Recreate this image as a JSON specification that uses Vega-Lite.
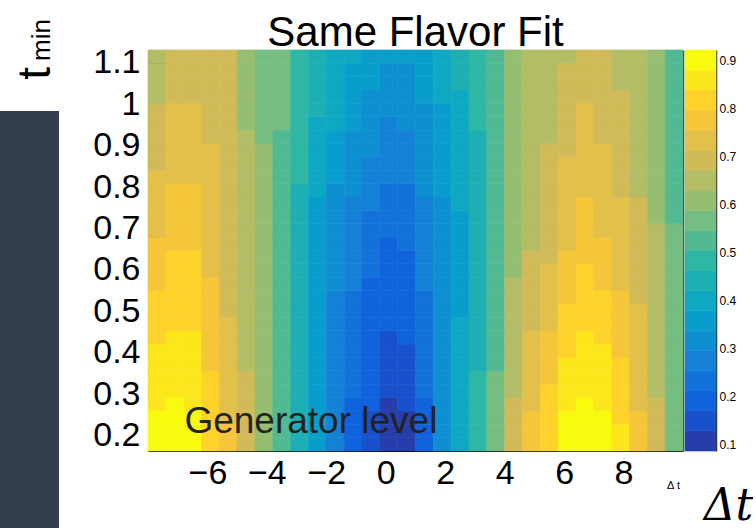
{
"$schema":"https://vega.github.io/schema/vega-lite/v6.json",
"background":"white",
"padding":{"left":0,"top":11,"right":0,"bottom":0},
"bounds":"flush",
"spacing":148,
"config":{"view":{"stroke":null},"font":"Liberation Sans"},
"datasets":{"cells":[
{"x":-7.7,"t":0.179,"v":0.90},{"x":-7.1,"t":0.179,"v":0.90},{"x":-6.5,"t":0.179,"v":0.89},{"x":-5.9,"t":0.179,"v":0.83},{"x":-5.3,"t":0.179,"v":0.76},{"x":-4.7,"t":0.179,"v":0.69},{"x":-4.1,"t":0.179,"v":0.61},{"x":-3.5,"t":0.179,"v":0.53},{"x":-2.9,"t":0.179,"v":0.45},{"x":-2.3,"t":0.179,"v":0.37},{"x":-1.7,"t":0.179,"v":0.28},{"x":-1.1,"t":0.179,"v":0.20},{"x":-0.5,"t":0.179,"v":0.15},{"x":0.1,"t":0.179,"v":0.10},{"x":0.7,"t":0.179,"v":0.11},{"x":1.3,"t":0.179,"v":0.20},{"x":1.9,"t":0.179,"v":0.31},{"x":2.5,"t":0.179,"v":0.40},{"x":3.1,"t":0.179,"v":0.48},{"x":3.7,"t":0.179,"v":0.56},{"x":4.3,"t":0.179,"v":0.69},{"x":4.9,"t":0.179,"v":0.78},{"x":5.5,"t":0.179,"v":0.83},{"x":6.1,"t":0.179,"v":0.90},{"x":6.7,"t":0.179,"v":0.90},{"x":7.3,"t":0.179,"v":0.90},{"x":7.9,"t":0.179,"v":0.85},{"x":8.5,"t":0.179,"v":0.77},{"x":9.1,"t":0.179,"v":0.69},{"x":9.7,"t":0.179,"v":0.57},
{"x":-7.7,"t":0.211,"v":0.89},{"x":-7.1,"t":0.211,"v":0.89},{"x":-6.5,"t":0.211,"v":0.88},{"x":-5.9,"t":0.211,"v":0.82},{"x":-5.3,"t":0.211,"v":0.76},{"x":-4.7,"t":0.211,"v":0.69},{"x":-4.1,"t":0.211,"v":0.61},{"x":-3.5,"t":0.211,"v":0.53},{"x":-2.9,"t":0.211,"v":0.45},{"x":-2.3,"t":0.211,"v":0.37},{"x":-1.7,"t":0.211,"v":0.28},{"x":-1.1,"t":0.211,"v":0.20},{"x":-0.5,"t":0.211,"v":0.16},{"x":0.1,"t":0.211,"v":0.11},{"x":0.7,"t":0.211,"v":0.12},{"x":1.3,"t":0.211,"v":0.20},{"x":1.9,"t":0.211,"v":0.31},{"x":2.5,"t":0.211,"v":0.40},{"x":3.1,"t":0.211,"v":0.48},{"x":3.7,"t":0.211,"v":0.56},{"x":4.3,"t":0.211,"v":0.69},{"x":4.9,"t":0.211,"v":0.77},{"x":5.5,"t":0.211,"v":0.82},{"x":6.1,"t":0.211,"v":0.89},{"x":6.7,"t":0.211,"v":0.89},{"x":7.3,"t":0.211,"v":0.89},{"x":7.9,"t":0.211,"v":0.84},{"x":8.5,"t":0.211,"v":0.77},{"x":9.1,"t":0.211,"v":0.69},{"x":9.7,"t":0.211,"v":0.57},
{"x":-7.7,"t":0.244,"v":0.88},{"x":-7.1,"t":0.244,"v":0.89},{"x":-6.5,"t":0.244,"v":0.88},{"x":-5.9,"t":0.244,"v":0.82},{"x":-5.3,"t":0.244,"v":0.75},{"x":-4.7,"t":0.244,"v":0.69},{"x":-4.1,"t":0.244,"v":0.61},{"x":-3.5,"t":0.244,"v":0.53},{"x":-2.9,"t":0.244,"v":0.45},{"x":-2.3,"t":0.244,"v":0.37},{"x":-1.7,"t":0.244,"v":0.28},{"x":-1.1,"t":0.244,"v":0.21},{"x":-0.5,"t":0.244,"v":0.16},{"x":0.1,"t":0.244,"v":0.11},{"x":0.7,"t":0.244,"v":0.12},{"x":1.3,"t":0.244,"v":0.21},{"x":1.9,"t":0.244,"v":0.31},{"x":2.5,"t":0.244,"v":0.40},{"x":3.1,"t":0.244,"v":0.48},{"x":3.7,"t":0.244,"v":0.56},{"x":4.3,"t":0.244,"v":0.68},{"x":4.9,"t":0.244,"v":0.77},{"x":5.5,"t":0.244,"v":0.81},{"x":6.1,"t":0.244,"v":0.88},{"x":6.7,"t":0.244,"v":0.88},{"x":7.3,"t":0.244,"v":0.88},{"x":7.9,"t":0.244,"v":0.83},{"x":8.5,"t":0.244,"v":0.76},{"x":9.1,"t":0.244,"v":0.68},{"x":9.7,"t":0.244,"v":0.57},
{"x":-7.7,"t":0.276,"v":0.87},{"x":-7.1,"t":0.276,"v":0.88},{"x":-6.5,"t":0.276,"v":0.87},{"x":-5.9,"t":0.276,"v":0.81},{"x":-5.3,"t":0.276,"v":0.75},{"x":-4.7,"t":0.276,"v":0.68},{"x":-4.1,"t":0.276,"v":0.61},{"x":-3.5,"t":0.276,"v":0.53},{"x":-2.9,"t":0.276,"v":0.45},{"x":-2.3,"t":0.276,"v":0.37},{"x":-1.7,"t":0.276,"v":0.28},{"x":-1.1,"t":0.276,"v":0.21},{"x":-0.5,"t":0.276,"v":0.17},{"x":0.1,"t":0.276,"v":0.12},{"x":0.7,"t":0.276,"v":0.13},{"x":1.3,"t":0.276,"v":0.21},{"x":1.9,"t":0.276,"v":0.31},{"x":2.5,"t":0.276,"v":0.39},{"x":3.1,"t":0.276,"v":0.47},{"x":3.7,"t":0.276,"v":0.55},{"x":4.3,"t":0.276,"v":0.68},{"x":4.9,"t":0.276,"v":0.75},{"x":5.5,"t":0.276,"v":0.80},{"x":6.1,"t":0.276,"v":0.87},{"x":6.7,"t":0.276,"v":0.88},{"x":7.3,"t":0.276,"v":0.87},{"x":7.9,"t":0.276,"v":0.83},{"x":8.5,"t":0.276,"v":0.75},{"x":9.1,"t":0.276,"v":0.68},{"x":9.7,"t":0.276,"v":0.57},
{"x":-7.7,"t":0.308,"v":0.86},{"x":-7.1,"t":0.308,"v":0.87},{"x":-6.5,"t":0.308,"v":0.86},{"x":-5.9,"t":0.308,"v":0.81},{"x":-5.3,"t":0.308,"v":0.74},{"x":-4.7,"t":0.308,"v":0.68},{"x":-4.1,"t":0.308,"v":0.61},{"x":-3.5,"t":0.308,"v":0.53},{"x":-2.9,"t":0.308,"v":0.45},{"x":-2.3,"t":0.308,"v":0.36},{"x":-1.7,"t":0.308,"v":0.29},{"x":-1.1,"t":0.308,"v":0.22},{"x":-0.5,"t":0.308,"v":0.17},{"x":0.1,"t":0.308,"v":0.13},{"x":0.7,"t":0.308,"v":0.14},{"x":1.3,"t":0.308,"v":0.22},{"x":1.9,"t":0.308,"v":0.31},{"x":2.5,"t":0.308,"v":0.39},{"x":3.1,"t":0.308,"v":0.47},{"x":3.7,"t":0.308,"v":0.55},{"x":4.3,"t":0.308,"v":0.67},{"x":4.9,"t":0.308,"v":0.74},{"x":5.5,"t":0.308,"v":0.80},{"x":6.1,"t":0.308,"v":0.86},{"x":6.7,"t":0.308,"v":0.87},{"x":7.3,"t":0.308,"v":0.86},{"x":7.9,"t":0.308,"v":0.82},{"x":8.5,"t":0.308,"v":0.75},{"x":9.1,"t":0.308,"v":0.67},{"x":9.7,"t":0.308,"v":0.57},
{"x":-7.7,"t":0.341,"v":0.85},{"x":-7.1,"t":0.341,"v":0.86},{"x":-6.5,"t":0.341,"v":0.86},{"x":-5.9,"t":0.341,"v":0.80},{"x":-5.3,"t":0.341,"v":0.74},{"x":-4.7,"t":0.341,"v":0.68},{"x":-4.1,"t":0.341,"v":0.61},{"x":-3.5,"t":0.341,"v":0.53},{"x":-2.9,"t":0.341,"v":0.45},{"x":-2.3,"t":0.341,"v":0.36},{"x":-1.7,"t":0.341,"v":0.29},{"x":-1.1,"t":0.341,"v":0.22},{"x":-0.5,"t":0.341,"v":0.18},{"x":0.1,"t":0.341,"v":0.14},{"x":0.7,"t":0.341,"v":0.15},{"x":1.3,"t":0.341,"v":0.22},{"x":1.9,"t":0.341,"v":0.31},{"x":2.5,"t":0.341,"v":0.39},{"x":3.1,"t":0.341,"v":0.47},{"x":3.7,"t":0.341,"v":0.55},{"x":4.3,"t":0.341,"v":0.67},{"x":4.9,"t":0.341,"v":0.74},{"x":5.5,"t":0.341,"v":0.79},{"x":6.1,"t":0.341,"v":0.85},{"x":6.7,"t":0.341,"v":0.86},{"x":7.3,"t":0.341,"v":0.85},{"x":7.9,"t":0.341,"v":0.81},{"x":8.5,"t":0.341,"v":0.74},{"x":9.1,"t":0.341,"v":0.67},{"x":9.7,"t":0.341,"v":0.57},
{"x":-7.7,"t":0.373,"v":0.84},{"x":-7.1,"t":0.373,"v":0.86},{"x":-6.5,"t":0.373,"v":0.85},{"x":-5.9,"t":0.373,"v":0.79},{"x":-5.3,"t":0.373,"v":0.73},{"x":-4.7,"t":0.373,"v":0.67},{"x":-4.1,"t":0.373,"v":0.61},{"x":-3.5,"t":0.373,"v":0.53},{"x":-2.9,"t":0.373,"v":0.45},{"x":-2.3,"t":0.373,"v":0.36},{"x":-1.7,"t":0.373,"v":0.29},{"x":-1.1,"t":0.373,"v":0.23},{"x":-0.5,"t":0.373,"v":0.18},{"x":0.1,"t":0.373,"v":0.14},{"x":0.7,"t":0.373,"v":0.15},{"x":1.3,"t":0.373,"v":0.23},{"x":1.9,"t":0.373,"v":0.31},{"x":2.5,"t":0.373,"v":0.38},{"x":3.1,"t":0.373,"v":0.46},{"x":3.7,"t":0.373,"v":0.54},{"x":4.3,"t":0.373,"v":0.67},{"x":4.9,"t":0.373,"v":0.73},{"x":5.5,"t":0.373,"v":0.78},{"x":6.1,"t":0.373,"v":0.84},{"x":6.7,"t":0.373,"v":0.85},{"x":7.3,"t":0.373,"v":0.84},{"x":7.9,"t":0.373,"v":0.80},{"x":8.5,"t":0.373,"v":0.74},{"x":9.1,"t":0.373,"v":0.67},{"x":9.7,"t":0.373,"v":0.57},
{"x":-7.7,"t":0.405,"v":0.84},{"x":-7.1,"t":0.405,"v":0.85},{"x":-6.5,"t":0.405,"v":0.84},{"x":-5.9,"t":0.405,"v":0.79},{"x":-5.3,"t":0.405,"v":0.73},{"x":-4.7,"t":0.405,"v":0.67},{"x":-4.1,"t":0.405,"v":0.61},{"x":-3.5,"t":0.405,"v":0.53},{"x":-2.9,"t":0.405,"v":0.45},{"x":-2.3,"t":0.405,"v":0.36},{"x":-1.7,"t":0.405,"v":0.29},{"x":-1.1,"t":0.405,"v":0.23},{"x":-0.5,"t":0.405,"v":0.19},{"x":0.1,"t":0.405,"v":0.15},{"x":0.7,"t":0.405,"v":0.16},{"x":1.3,"t":0.405,"v":0.23},{"x":1.9,"t":0.405,"v":0.31},{"x":2.5,"t":0.405,"v":0.38},{"x":3.1,"t":0.405,"v":0.46},{"x":3.7,"t":0.405,"v":0.54},{"x":4.3,"t":0.405,"v":0.66},{"x":4.9,"t":0.405,"v":0.73},{"x":5.5,"t":0.405,"v":0.77},{"x":6.1,"t":0.405,"v":0.83},{"x":6.7,"t":0.405,"v":0.84},{"x":7.3,"t":0.405,"v":0.84},{"x":7.9,"t":0.405,"v":0.79},{"x":8.5,"t":0.405,"v":0.73},{"x":9.1,"t":0.405,"v":0.66},{"x":9.7,"t":0.405,"v":0.56},
{"x":-7.7,"t":0.437,"v":0.83},{"x":-7.1,"t":0.437,"v":0.84},{"x":-6.5,"t":0.437,"v":0.84},{"x":-5.9,"t":0.437,"v":0.78},{"x":-5.3,"t":0.437,"v":0.72},{"x":-4.7,"t":0.437,"v":0.67},{"x":-4.1,"t":0.437,"v":0.61},{"x":-3.5,"t":0.437,"v":0.52},{"x":-2.9,"t":0.437,"v":0.45},{"x":-2.3,"t":0.437,"v":0.36},{"x":-1.7,"t":0.437,"v":0.29},{"x":-1.1,"t":0.437,"v":0.24},{"x":-0.5,"t":0.437,"v":0.19},{"x":0.1,"t":0.437,"v":0.16},{"x":0.7,"t":0.437,"v":0.17},{"x":1.3,"t":0.437,"v":0.24},{"x":1.9,"t":0.437,"v":0.31},{"x":2.5,"t":0.437,"v":0.38},{"x":3.1,"t":0.437,"v":0.46},{"x":3.7,"t":0.437,"v":0.54},{"x":4.3,"t":0.437,"v":0.66},{"x":4.9,"t":0.437,"v":0.72},{"x":5.5,"t":0.437,"v":0.76},{"x":6.1,"t":0.437,"v":0.82},{"x":6.7,"t":0.437,"v":0.84},{"x":7.3,"t":0.437,"v":0.83},{"x":7.9,"t":0.437,"v":0.79},{"x":8.5,"t":0.437,"v":0.73},{"x":9.1,"t":0.437,"v":0.66},{"x":9.7,"t":0.437,"v":0.56},
{"x":-7.7,"t":0.470,"v":0.82},{"x":-7.1,"t":0.470,"v":0.83},{"x":-6.5,"t":0.470,"v":0.83},{"x":-5.9,"t":0.470,"v":0.78},{"x":-5.3,"t":0.470,"v":0.72},{"x":-4.7,"t":0.470,"v":0.67},{"x":-4.1,"t":0.470,"v":0.60},{"x":-3.5,"t":0.470,"v":0.52},{"x":-2.9,"t":0.470,"v":0.45},{"x":-2.3,"t":0.470,"v":0.36},{"x":-1.7,"t":0.470,"v":0.29},{"x":-1.1,"t":0.470,"v":0.24},{"x":-0.5,"t":0.470,"v":0.20},{"x":0.1,"t":0.470,"v":0.17},{"x":0.7,"t":0.470,"v":0.18},{"x":1.3,"t":0.470,"v":0.24},{"x":1.9,"t":0.470,"v":0.31},{"x":2.5,"t":0.470,"v":0.38},{"x":3.1,"t":0.470,"v":0.46},{"x":3.7,"t":0.470,"v":0.54},{"x":4.3,"t":0.470,"v":0.66},{"x":4.9,"t":0.470,"v":0.70},{"x":5.5,"t":0.470,"v":0.75},{"x":6.1,"t":0.470,"v":0.81},{"x":6.7,"t":0.470,"v":0.83},{"x":7.3,"t":0.470,"v":0.82},{"x":7.9,"t":0.470,"v":0.78},{"x":8.5,"t":0.470,"v":0.72},{"x":9.1,"t":0.470,"v":0.65},{"x":9.7,"t":0.470,"v":0.56},
{"x":-7.7,"t":0.502,"v":0.81},{"x":-7.1,"t":0.502,"v":0.83},{"x":-6.5,"t":0.502,"v":0.82},{"x":-5.9,"t":0.502,"v":0.77},{"x":-5.3,"t":0.502,"v":0.71},{"x":-4.7,"t":0.502,"v":0.66},{"x":-4.1,"t":0.502,"v":0.60},{"x":-3.5,"t":0.502,"v":0.52},{"x":-2.9,"t":0.502,"v":0.45},{"x":-2.3,"t":0.502,"v":0.36},{"x":-1.7,"t":0.502,"v":0.29},{"x":-1.1,"t":0.502,"v":0.25},{"x":-0.5,"t":0.502,"v":0.20},{"x":0.1,"t":0.502,"v":0.17},{"x":0.7,"t":0.502,"v":0.18},{"x":1.3,"t":0.502,"v":0.25},{"x":1.9,"t":0.502,"v":0.31},{"x":2.5,"t":0.502,"v":0.37},{"x":3.1,"t":0.502,"v":0.45},{"x":3.7,"t":0.502,"v":0.53},{"x":4.3,"t":0.502,"v":0.65},{"x":4.9,"t":0.502,"v":0.70},{"x":5.5,"t":0.502,"v":0.74},{"x":6.1,"t":0.502,"v":0.80},{"x":6.7,"t":0.502,"v":0.82},{"x":7.3,"t":0.502,"v":0.81},{"x":7.9,"t":0.502,"v":0.77},{"x":8.5,"t":0.502,"v":0.72},{"x":9.1,"t":0.502,"v":0.65},{"x":9.7,"t":0.502,"v":0.56},
{"x":-7.7,"t":0.534,"v":0.80},{"x":-7.1,"t":0.534,"v":0.82},{"x":-6.5,"t":0.534,"v":0.82},{"x":-5.9,"t":0.534,"v":0.76},{"x":-5.3,"t":0.534,"v":0.71},{"x":-4.7,"t":0.534,"v":0.66},{"x":-4.1,"t":0.534,"v":0.60},{"x":-3.5,"t":0.534,"v":0.52},{"x":-2.9,"t":0.534,"v":0.45},{"x":-2.3,"t":0.534,"v":0.36},{"x":-1.7,"t":0.534,"v":0.29},{"x":-1.1,"t":0.534,"v":0.25},{"x":-0.5,"t":0.534,"v":0.21},{"x":0.1,"t":0.534,"v":0.18},{"x":0.7,"t":0.534,"v":0.19},{"x":1.3,"t":0.534,"v":0.25},{"x":1.9,"t":0.534,"v":0.31},{"x":2.5,"t":0.534,"v":0.37},{"x":3.1,"t":0.534,"v":0.45},{"x":3.7,"t":0.534,"v":0.53},{"x":4.3,"t":0.534,"v":0.65},{"x":4.9,"t":0.534,"v":0.69},{"x":5.5,"t":0.534,"v":0.73},{"x":6.1,"t":0.534,"v":0.79},{"x":6.7,"t":0.534,"v":0.81},{"x":7.3,"t":0.534,"v":0.80},{"x":7.9,"t":0.534,"v":0.76},{"x":8.5,"t":0.534,"v":0.71},{"x":9.1,"t":0.534,"v":0.65},{"x":9.7,"t":0.534,"v":0.56},
{"x":-7.7,"t":0.566,"v":0.79},{"x":-7.1,"t":0.566,"v":0.81},{"x":-6.5,"t":0.566,"v":0.81},{"x":-5.9,"t":0.566,"v":0.76},{"x":-5.3,"t":0.566,"v":0.70},{"x":-4.7,"t":0.566,"v":0.66},{"x":-4.1,"t":0.566,"v":0.60},{"x":-3.5,"t":0.566,"v":0.52},{"x":-2.9,"t":0.566,"v":0.45},{"x":-2.3,"t":0.566,"v":0.35},{"x":-1.7,"t":0.566,"v":0.30},{"x":-1.1,"t":0.566,"v":0.26},{"x":-0.5,"t":0.566,"v":0.21},{"x":0.1,"t":0.566,"v":0.19},{"x":0.7,"t":0.566,"v":0.20},{"x":1.3,"t":0.566,"v":0.26},{"x":1.9,"t":0.566,"v":0.31},{"x":2.5,"t":0.566,"v":0.37},{"x":3.1,"t":0.566,"v":0.45},{"x":3.7,"t":0.566,"v":0.53},{"x":4.3,"t":0.566,"v":0.64},{"x":4.9,"t":0.566,"v":0.69},{"x":5.5,"t":0.566,"v":0.73},{"x":6.1,"t":0.566,"v":0.78},{"x":6.7,"t":0.566,"v":0.80},{"x":7.3,"t":0.566,"v":0.79},{"x":7.9,"t":0.566,"v":0.75},{"x":8.5,"t":0.566,"v":0.71},{"x":9.1,"t":0.566,"v":0.64},{"x":9.7,"t":0.566,"v":0.56},
{"x":-7.7,"t":0.599,"v":0.78},{"x":-7.1,"t":0.599,"v":0.80},{"x":-6.5,"t":0.599,"v":0.80},{"x":-5.9,"t":0.599,"v":0.75},{"x":-5.3,"t":0.599,"v":0.70},{"x":-4.7,"t":0.599,"v":0.66},{"x":-4.1,"t":0.599,"v":0.60},{"x":-3.5,"t":0.599,"v":0.52},{"x":-2.9,"t":0.599,"v":0.45},{"x":-2.3,"t":0.599,"v":0.35},{"x":-1.7,"t":0.599,"v":0.30},{"x":-1.1,"t":0.599,"v":0.26},{"x":-0.5,"t":0.599,"v":0.22},{"x":0.1,"t":0.599,"v":0.20},{"x":0.7,"t":0.599,"v":0.21},{"x":1.3,"t":0.599,"v":0.26},{"x":1.9,"t":0.599,"v":0.31},{"x":2.5,"t":0.599,"v":0.37},{"x":3.1,"t":0.599,"v":0.45},{"x":3.7,"t":0.599,"v":0.53},{"x":4.3,"t":0.599,"v":0.62},{"x":4.9,"t":0.599,"v":0.68},{"x":5.5,"t":0.599,"v":0.72},{"x":6.1,"t":0.599,"v":0.77},{"x":6.7,"t":0.599,"v":0.80},{"x":7.3,"t":0.599,"v":0.78},{"x":7.9,"t":0.599,"v":0.75},{"x":8.5,"t":0.599,"v":0.70},{"x":9.1,"t":0.599,"v":0.64},{"x":9.7,"t":0.599,"v":0.56},
{"x":-7.7,"t":0.631,"v":0.77},{"x":-7.1,"t":0.631,"v":0.80},{"x":-6.5,"t":0.631,"v":0.80},{"x":-5.9,"t":0.631,"v":0.75},{"x":-5.3,"t":0.631,"v":0.70},{"x":-4.7,"t":0.631,"v":0.65},{"x":-4.1,"t":0.631,"v":0.60},{"x":-3.5,"t":0.631,"v":0.52},{"x":-2.9,"t":0.631,"v":0.45},{"x":-2.3,"t":0.631,"v":0.35},{"x":-1.7,"t":0.631,"v":0.30},{"x":-1.1,"t":0.631,"v":0.27},{"x":-0.5,"t":0.631,"v":0.22},{"x":0.1,"t":0.631,"v":0.20},{"x":0.7,"t":0.631,"v":0.21},{"x":1.3,"t":0.631,"v":0.27},{"x":1.9,"t":0.631,"v":0.31},{"x":2.5,"t":0.631,"v":0.36},{"x":3.1,"t":0.631,"v":0.44},{"x":3.7,"t":0.631,"v":0.52},{"x":4.3,"t":0.631,"v":0.61},{"x":4.9,"t":0.631,"v":0.68},{"x":5.5,"t":0.631,"v":0.71},{"x":6.1,"t":0.631,"v":0.76},{"x":6.7,"t":0.631,"v":0.79},{"x":7.3,"t":0.631,"v":0.77},{"x":7.9,"t":0.631,"v":0.74},{"x":8.5,"t":0.631,"v":0.70},{"x":9.1,"t":0.631,"v":0.63},{"x":9.7,"t":0.631,"v":0.56},
{"x":-7.7,"t":0.663,"v":0.76},{"x":-7.1,"t":0.663,"v":0.79},{"x":-6.5,"t":0.663,"v":0.79},{"x":-5.9,"t":0.663,"v":0.74},{"x":-5.3,"t":0.663,"v":0.69},{"x":-4.7,"t":0.663,"v":0.65},{"x":-4.1,"t":0.663,"v":0.60},{"x":-3.5,"t":0.663,"v":0.52},{"x":-2.9,"t":0.663,"v":0.45},{"x":-2.3,"t":0.663,"v":0.35},{"x":-1.7,"t":0.663,"v":0.30},{"x":-1.1,"t":0.663,"v":0.27},{"x":-0.5,"t":0.663,"v":0.23},{"x":0.1,"t":0.663,"v":0.21},{"x":0.7,"t":0.663,"v":0.22},{"x":1.3,"t":0.663,"v":0.27},{"x":1.9,"t":0.663,"v":0.31},{"x":2.5,"t":0.663,"v":0.36},{"x":3.1,"t":0.663,"v":0.44},{"x":3.7,"t":0.663,"v":0.52},{"x":4.3,"t":0.663,"v":0.60},{"x":4.9,"t":0.663,"v":0.67},{"x":5.5,"t":0.663,"v":0.70},{"x":6.1,"t":0.663,"v":0.75},{"x":6.7,"t":0.663,"v":0.78},{"x":7.3,"t":0.663,"v":0.76},{"x":7.9,"t":0.663,"v":0.73},{"x":8.5,"t":0.663,"v":0.69},{"x":9.1,"t":0.663,"v":0.63},{"x":9.7,"t":0.663,"v":0.56},
{"x":-7.7,"t":0.695,"v":0.75},{"x":-7.1,"t":0.695,"v":0.78},{"x":-6.5,"t":0.695,"v":0.78},{"x":-5.9,"t":0.695,"v":0.74},{"x":-5.3,"t":0.695,"v":0.69},{"x":-4.7,"t":0.695,"v":0.65},{"x":-4.1,"t":0.695,"v":0.60},{"x":-3.5,"t":0.695,"v":0.52},{"x":-2.9,"t":0.695,"v":0.45},{"x":-2.3,"t":0.695,"v":0.36},{"x":-1.7,"t":0.695,"v":0.31},{"x":-1.1,"t":0.695,"v":0.28},{"x":-0.5,"t":0.695,"v":0.24},{"x":0.1,"t":0.695,"v":0.22},{"x":0.7,"t":0.695,"v":0.23},{"x":1.3,"t":0.695,"v":0.28},{"x":1.9,"t":0.695,"v":0.32},{"x":2.5,"t":0.695,"v":0.37},{"x":3.1,"t":0.695,"v":0.44},{"x":3.7,"t":0.695,"v":0.52},{"x":4.3,"t":0.695,"v":0.60},{"x":4.9,"t":0.695,"v":0.67},{"x":5.5,"t":0.695,"v":0.70},{"x":6.1,"t":0.695,"v":0.74},{"x":6.7,"t":0.695,"v":0.77},{"x":7.3,"t":0.695,"v":0.75},{"x":7.9,"t":0.695,"v":0.73},{"x":8.5,"t":0.695,"v":0.69},{"x":9.1,"t":0.695,"v":0.63},{"x":9.7,"t":0.695,"v":0.55},
{"x":-7.7,"t":0.728,"v":0.74},{"x":-7.1,"t":0.728,"v":0.78},{"x":-6.5,"t":0.728,"v":0.78},{"x":-5.9,"t":0.728,"v":0.73},{"x":-5.3,"t":0.728,"v":0.69},{"x":-4.7,"t":0.728,"v":0.64},{"x":-4.1,"t":0.728,"v":0.60},{"x":-3.5,"t":0.728,"v":0.53},{"x":-2.9,"t":0.728,"v":0.46},{"x":-2.3,"t":0.728,"v":0.37},{"x":-1.7,"t":0.728,"v":0.32},{"x":-1.1,"t":0.728,"v":0.29},{"x":-0.5,"t":0.728,"v":0.25},{"x":0.1,"t":0.728,"v":0.23},{"x":0.7,"t":0.728,"v":0.24},{"x":1.3,"t":0.728,"v":0.28},{"x":1.9,"t":0.728,"v":0.32},{"x":2.5,"t":0.728,"v":0.37},{"x":3.1,"t":0.728,"v":0.45},{"x":3.7,"t":0.728,"v":0.52},{"x":4.3,"t":0.728,"v":0.60},{"x":4.9,"t":0.728,"v":0.67},{"x":5.5,"t":0.728,"v":0.69},{"x":6.1,"t":0.728,"v":0.74},{"x":6.7,"t":0.728,"v":0.77},{"x":7.3,"t":0.728,"v":0.75},{"x":7.9,"t":0.728,"v":0.72},{"x":8.5,"t":0.728,"v":0.68},{"x":9.1,"t":0.728,"v":0.62},{"x":9.7,"t":0.728,"v":0.54},
{"x":-7.7,"t":0.760,"v":0.74},{"x":-7.1,"t":0.760,"v":0.77},{"x":-6.5,"t":0.760,"v":0.77},{"x":-5.9,"t":0.760,"v":0.73},{"x":-5.3,"t":0.760,"v":0.69},{"x":-4.7,"t":0.760,"v":0.64},{"x":-4.1,"t":0.760,"v":0.59},{"x":-3.5,"t":0.760,"v":0.53},{"x":-2.9,"t":0.760,"v":0.46},{"x":-2.3,"t":0.760,"v":0.37},{"x":-1.7,"t":0.760,"v":0.33},{"x":-1.1,"t":0.760,"v":0.29},{"x":-0.5,"t":0.760,"v":0.26},{"x":0.1,"t":0.760,"v":0.24},{"x":0.7,"t":0.760,"v":0.25},{"x":1.3,"t":0.760,"v":0.29},{"x":1.9,"t":0.760,"v":0.33},{"x":2.5,"t":0.760,"v":0.38},{"x":3.1,"t":0.760,"v":0.45},{"x":3.7,"t":0.760,"v":0.52},{"x":4.3,"t":0.760,"v":0.60},{"x":4.9,"t":0.760,"v":0.66},{"x":5.5,"t":0.760,"v":0.69},{"x":6.1,"t":0.760,"v":0.73},{"x":6.7,"t":0.760,"v":0.76},{"x":7.3,"t":0.760,"v":0.74},{"x":7.9,"t":0.760,"v":0.72},{"x":8.5,"t":0.760,"v":0.68},{"x":9.1,"t":0.760,"v":0.62},{"x":9.7,"t":0.760,"v":0.54},
{"x":-7.7,"t":0.792,"v":0.73},{"x":-7.1,"t":0.792,"v":0.76},{"x":-6.5,"t":0.792,"v":0.76},{"x":-5.9,"t":0.792,"v":0.73},{"x":-5.3,"t":0.792,"v":0.69},{"x":-4.7,"t":0.792,"v":0.64},{"x":-4.1,"t":0.792,"v":0.59},{"x":-3.5,"t":0.792,"v":0.53},{"x":-2.9,"t":0.792,"v":0.46},{"x":-2.3,"t":0.792,"v":0.38},{"x":-1.7,"t":0.792,"v":0.33},{"x":-1.1,"t":0.792,"v":0.30},{"x":-0.5,"t":0.792,"v":0.27},{"x":0.1,"t":0.792,"v":0.25},{"x":0.7,"t":0.792,"v":0.25},{"x":1.3,"t":0.792,"v":0.30},{"x":1.9,"t":0.792,"v":0.34},{"x":2.5,"t":0.792,"v":0.38},{"x":3.1,"t":0.792,"v":0.45},{"x":3.7,"t":0.792,"v":0.53},{"x":4.3,"t":0.792,"v":0.60},{"x":4.9,"t":0.792,"v":0.66},{"x":5.5,"t":0.792,"v":0.69},{"x":6.1,"t":0.792,"v":0.73},{"x":6.7,"t":0.792,"v":0.75},{"x":7.3,"t":0.792,"v":0.74},{"x":7.9,"t":0.792,"v":0.71},{"x":8.5,"t":0.792,"v":0.67},{"x":9.1,"t":0.792,"v":0.62},{"x":9.7,"t":0.792,"v":0.54},
{"x":-7.7,"t":0.824,"v":0.72},{"x":-7.1,"t":0.824,"v":0.75},{"x":-6.5,"t":0.824,"v":0.75},{"x":-5.9,"t":0.824,"v":0.72},{"x":-5.3,"t":0.824,"v":0.69},{"x":-4.7,"t":0.824,"v":0.64},{"x":-4.1,"t":0.824,"v":0.59},{"x":-3.5,"t":0.824,"v":0.53},{"x":-2.9,"t":0.824,"v":0.47},{"x":-2.3,"t":0.824,"v":0.39},{"x":-1.7,"t":0.824,"v":0.34},{"x":-1.1,"t":0.824,"v":0.31},{"x":-0.5,"t":0.824,"v":0.28},{"x":0.1,"t":0.824,"v":0.26},{"x":0.7,"t":0.824,"v":0.26},{"x":1.3,"t":0.824,"v":0.30},{"x":1.9,"t":0.824,"v":0.34},{"x":2.5,"t":0.824,"v":0.39},{"x":3.1,"t":0.824,"v":0.45},{"x":3.7,"t":0.824,"v":0.53},{"x":4.3,"t":0.824,"v":0.60},{"x":4.9,"t":0.824,"v":0.66},{"x":5.5,"t":0.824,"v":0.68},{"x":6.1,"t":0.824,"v":0.72},{"x":6.7,"t":0.824,"v":0.75},{"x":7.3,"t":0.824,"v":0.73},{"x":7.9,"t":0.824,"v":0.71},{"x":8.5,"t":0.824,"v":0.67},{"x":9.1,"t":0.824,"v":0.62},{"x":9.7,"t":0.824,"v":0.54},
{"x":-7.7,"t":0.857,"v":0.71},{"x":-7.1,"t":0.857,"v":0.75},{"x":-6.5,"t":0.857,"v":0.75},{"x":-5.9,"t":0.857,"v":0.72},{"x":-5.3,"t":0.857,"v":0.69},{"x":-4.7,"t":0.857,"v":0.63},{"x":-4.1,"t":0.857,"v":0.59},{"x":-3.5,"t":0.857,"v":0.54},{"x":-2.9,"t":0.857,"v":0.47},{"x":-2.3,"t":0.857,"v":0.40},{"x":-1.7,"t":0.857,"v":0.35},{"x":-1.1,"t":0.857,"v":0.32},{"x":-0.5,"t":0.857,"v":0.29},{"x":0.1,"t":0.857,"v":0.27},{"x":0.7,"t":0.857,"v":0.27},{"x":1.3,"t":0.857,"v":0.31},{"x":1.9,"t":0.857,"v":0.35},{"x":2.5,"t":0.857,"v":0.39},{"x":3.1,"t":0.857,"v":0.46},{"x":3.7,"t":0.857,"v":0.53},{"x":4.3,"t":0.857,"v":0.60},{"x":4.9,"t":0.857,"v":0.65},{"x":5.5,"t":0.857,"v":0.68},{"x":6.1,"t":0.857,"v":0.72},{"x":6.7,"t":0.857,"v":0.74},{"x":7.3,"t":0.857,"v":0.73},{"x":7.9,"t":0.857,"v":0.70},{"x":8.5,"t":0.857,"v":0.66},{"x":9.1,"t":0.857,"v":0.61},{"x":9.7,"t":0.857,"v":0.53},
{"x":-7.7,"t":0.889,"v":0.71},{"x":-7.1,"t":0.889,"v":0.74},{"x":-6.5,"t":0.889,"v":0.74},{"x":-5.9,"t":0.889,"v":0.72},{"x":-5.3,"t":0.889,"v":0.69},{"x":-4.7,"t":0.889,"v":0.63},{"x":-4.1,"t":0.889,"v":0.59},{"x":-3.5,"t":0.889,"v":0.54},{"x":-2.9,"t":0.889,"v":0.48},{"x":-2.3,"t":0.889,"v":0.40},{"x":-1.7,"t":0.889,"v":0.36},{"x":-1.1,"t":0.889,"v":0.32},{"x":-0.5,"t":0.889,"v":0.30},{"x":0.1,"t":0.889,"v":0.28},{"x":0.7,"t":0.889,"v":0.28},{"x":1.3,"t":0.889,"v":0.32},{"x":1.9,"t":0.889,"v":0.36},{"x":2.5,"t":0.889,"v":0.40},{"x":3.1,"t":0.889,"v":0.46},{"x":3.7,"t":0.889,"v":0.53},{"x":4.3,"t":0.889,"v":0.60},{"x":4.9,"t":0.889,"v":0.65},{"x":5.5,"t":0.889,"v":0.68},{"x":6.1,"t":0.889,"v":0.71},{"x":6.7,"t":0.889,"v":0.74},{"x":7.3,"t":0.889,"v":0.72},{"x":7.9,"t":0.889,"v":0.70},{"x":8.5,"t":0.889,"v":0.66},{"x":9.1,"t":0.889,"v":0.61},{"x":9.7,"t":0.889,"v":0.53},
{"x":-7.7,"t":0.921,"v":0.70},{"x":-7.1,"t":0.921,"v":0.73},{"x":-6.5,"t":0.921,"v":0.73},{"x":-5.9,"t":0.921,"v":0.71},{"x":-5.3,"t":0.921,"v":0.68},{"x":-4.7,"t":0.921,"v":0.63},{"x":-4.1,"t":0.921,"v":0.58},{"x":-3.5,"t":0.921,"v":0.54},{"x":-2.9,"t":0.921,"v":0.48},{"x":-2.3,"t":0.921,"v":0.41},{"x":-1.7,"t":0.921,"v":0.37},{"x":-1.1,"t":0.921,"v":0.33},{"x":-0.5,"t":0.921,"v":0.30},{"x":0.1,"t":0.921,"v":0.28},{"x":0.7,"t":0.921,"v":0.29},{"x":1.3,"t":0.921,"v":0.32},{"x":1.9,"t":0.921,"v":0.36},{"x":2.5,"t":0.921,"v":0.41},{"x":3.1,"t":0.921,"v":0.46},{"x":3.7,"t":0.921,"v":0.53},{"x":4.3,"t":0.921,"v":0.59},{"x":4.9,"t":0.921,"v":0.65},{"x":5.5,"t":0.921,"v":0.67},{"x":6.1,"t":0.921,"v":0.70},{"x":6.7,"t":0.921,"v":0.73},{"x":7.3,"t":0.921,"v":0.71},{"x":7.9,"t":0.921,"v":0.69},{"x":8.5,"t":0.921,"v":0.66},{"x":9.1,"t":0.921,"v":0.61},{"x":9.7,"t":0.921,"v":0.53},
{"x":-7.7,"t":0.953,"v":0.69},{"x":-7.1,"t":0.953,"v":0.73},{"x":-6.5,"t":0.953,"v":0.73},{"x":-5.9,"t":0.953,"v":0.71},{"x":-5.3,"t":0.953,"v":0.68},{"x":-4.7,"t":0.953,"v":0.62},{"x":-4.1,"t":0.953,"v":0.58},{"x":-3.5,"t":0.953,"v":0.55},{"x":-2.9,"t":0.953,"v":0.48},{"x":-2.3,"t":0.953,"v":0.42},{"x":-1.7,"t":0.953,"v":0.38},{"x":-1.1,"t":0.953,"v":0.34},{"x":-0.5,"t":0.953,"v":0.31},{"x":0.1,"t":0.953,"v":0.29},{"x":0.7,"t":0.953,"v":0.30},{"x":1.3,"t":0.953,"v":0.33},{"x":1.9,"t":0.953,"v":0.37},{"x":2.5,"t":0.953,"v":0.41},{"x":3.1,"t":0.953,"v":0.47},{"x":3.7,"t":0.953,"v":0.53},{"x":4.3,"t":0.953,"v":0.59},{"x":4.9,"t":0.953,"v":0.64},{"x":5.5,"t":0.953,"v":0.67},{"x":6.1,"t":0.953,"v":0.70},{"x":6.7,"t":0.953,"v":0.72},{"x":7.3,"t":0.953,"v":0.71},{"x":7.9,"t":0.953,"v":0.69},{"x":8.5,"t":0.953,"v":0.65},{"x":9.1,"t":0.953,"v":0.60},{"x":9.7,"t":0.953,"v":0.53},
{"x":-7.7,"t":0.986,"v":0.68},{"x":-7.1,"t":0.986,"v":0.72},{"x":-6.5,"t":0.986,"v":0.72},{"x":-5.9,"t":0.986,"v":0.70},{"x":-5.3,"t":0.986,"v":0.68},{"x":-4.7,"t":0.986,"v":0.62},{"x":-4.1,"t":0.986,"v":0.58},{"x":-3.5,"t":0.986,"v":0.55},{"x":-2.9,"t":0.986,"v":0.49},{"x":-2.3,"t":0.986,"v":0.43},{"x":-1.7,"t":0.986,"v":0.39},{"x":-1.1,"t":0.986,"v":0.35},{"x":-0.5,"t":0.986,"v":0.32},{"x":0.1,"t":0.986,"v":0.30},{"x":0.7,"t":0.986,"v":0.31},{"x":1.3,"t":0.986,"v":0.33},{"x":1.9,"t":0.986,"v":0.37},{"x":2.5,"t":0.986,"v":0.42},{"x":3.1,"t":0.986,"v":0.47},{"x":3.7,"t":0.986,"v":0.53},{"x":4.3,"t":0.986,"v":0.59},{"x":4.9,"t":0.986,"v":0.64},{"x":5.5,"t":0.986,"v":0.66},{"x":6.1,"t":0.986,"v":0.69},{"x":6.7,"t":0.986,"v":0.72},{"x":7.3,"t":0.986,"v":0.70},{"x":7.9,"t":0.986,"v":0.68},{"x":8.5,"t":0.986,"v":0.65},{"x":9.1,"t":0.986,"v":0.60},{"x":9.7,"t":0.986,"v":0.53},
{"x":-7.7,"t":1.018,"v":0.67},{"x":-7.1,"t":1.018,"v":0.71},{"x":-6.5,"t":1.018,"v":0.71},{"x":-5.9,"t":1.018,"v":0.70},{"x":-5.3,"t":1.018,"v":0.68},{"x":-4.7,"t":1.018,"v":0.62},{"x":-4.1,"t":1.018,"v":0.58},{"x":-3.5,"t":1.018,"v":0.55},{"x":-2.9,"t":1.018,"v":0.49},{"x":-2.3,"t":1.018,"v":0.44},{"x":-1.7,"t":1.018,"v":0.39},{"x":-1.1,"t":1.018,"v":0.36},{"x":-0.5,"t":1.018,"v":0.33},{"x":0.1,"t":1.018,"v":0.31},{"x":0.7,"t":1.018,"v":0.31},{"x":1.3,"t":1.018,"v":0.34},{"x":1.9,"t":1.018,"v":0.38},{"x":2.5,"t":1.018,"v":0.42},{"x":3.1,"t":1.018,"v":0.47},{"x":3.7,"t":1.018,"v":0.54},{"x":4.3,"t":1.018,"v":0.59},{"x":4.9,"t":1.018,"v":0.64},{"x":5.5,"t":1.018,"v":0.66},{"x":6.1,"t":1.018,"v":0.69},{"x":6.7,"t":1.018,"v":0.71},{"x":7.3,"t":1.018,"v":0.70},{"x":7.9,"t":1.018,"v":0.68},{"x":8.5,"t":1.018,"v":0.64},{"x":9.1,"t":1.018,"v":0.60},{"x":9.7,"t":1.018,"v":0.52},
{"x":-7.7,"t":1.050,"v":0.67},{"x":-7.1,"t":1.050,"v":0.70},{"x":-6.5,"t":1.050,"v":0.70},{"x":-5.9,"t":1.050,"v":0.70},{"x":-5.3,"t":1.050,"v":0.68},{"x":-4.7,"t":1.050,"v":0.62},{"x":-4.1,"t":1.050,"v":0.57},{"x":-3.5,"t":1.050,"v":0.55},{"x":-2.9,"t":1.050,"v":0.49},{"x":-2.3,"t":1.050,"v":0.44},{"x":-1.7,"t":1.050,"v":0.40},{"x":-1.1,"t":1.050,"v":0.36},{"x":-0.5,"t":1.050,"v":0.34},{"x":0.1,"t":1.050,"v":0.32},{"x":0.7,"t":1.050,"v":0.32},{"x":1.3,"t":1.050,"v":0.35},{"x":1.9,"t":1.050,"v":0.39},{"x":2.5,"t":1.050,"v":0.43},{"x":3.1,"t":1.050,"v":0.47},{"x":3.7,"t":1.050,"v":0.54},{"x":4.3,"t":1.050,"v":0.59},{"x":4.9,"t":1.050,"v":0.63},{"x":5.5,"t":1.050,"v":0.66},{"x":6.1,"t":1.050,"v":0.68},{"x":6.7,"t":1.050,"v":0.70},{"x":7.3,"t":1.050,"v":0.69},{"x":7.9,"t":1.050,"v":0.67},{"x":8.5,"t":1.050,"v":0.64},{"x":9.1,"t":1.050,"v":0.60},{"x":9.7,"t":1.050,"v":0.52},
{"x":-7.7,"t":1.082,"v":0.66},{"x":-7.1,"t":1.082,"v":0.70},{"x":-6.5,"t":1.082,"v":0.70},{"x":-5.9,"t":1.082,"v":0.69},{"x":-5.3,"t":1.082,"v":0.68},{"x":-4.7,"t":1.082,"v":0.61},{"x":-4.1,"t":1.082,"v":0.57},{"x":-3.5,"t":1.082,"v":0.56},{"x":-2.9,"t":1.082,"v":0.50},{"x":-2.3,"t":1.082,"v":0.45},{"x":-1.7,"t":1.082,"v":0.41},{"x":-1.1,"t":1.082,"v":0.37},{"x":-0.5,"t":1.082,"v":0.35},{"x":0.1,"t":1.082,"v":0.33},{"x":0.7,"t":1.082,"v":0.33},{"x":1.3,"t":1.082,"v":0.35},{"x":1.9,"t":1.082,"v":0.39},{"x":2.5,"t":1.082,"v":0.43},{"x":3.1,"t":1.082,"v":0.48},{"x":3.7,"t":1.082,"v":0.54},{"x":4.3,"t":1.082,"v":0.59},{"x":4.9,"t":1.082,"v":0.63},{"x":5.5,"t":1.082,"v":0.65},{"x":6.1,"t":1.082,"v":0.68},{"x":6.7,"t":1.082,"v":0.70},{"x":7.3,"t":1.082,"v":0.69},{"x":7.9,"t":1.082,"v":0.67},{"x":8.5,"t":1.082,"v":0.63},{"x":9.1,"t":1.082,"v":0.59},{"x":9.7,"t":1.082,"v":0.52},
{"x":-7.7,"t":1.115,"v":0.65},{"x":-7.1,"t":1.115,"v":0.69},{"x":-6.5,"t":1.115,"v":0.69},{"x":-5.9,"t":1.115,"v":0.69},{"x":-5.3,"t":1.115,"v":0.68},{"x":-4.7,"t":1.115,"v":0.61},{"x":-4.1,"t":1.115,"v":0.57},{"x":-3.5,"t":1.115,"v":0.56},{"x":-2.9,"t":1.115,"v":0.50},{"x":-2.3,"t":1.115,"v":0.46},{"x":-1.7,"t":1.115,"v":0.42},{"x":-1.1,"t":1.115,"v":0.38},{"x":-0.5,"t":1.115,"v":0.36},{"x":0.1,"t":1.115,"v":0.34},{"x":0.7,"t":1.115,"v":0.34},{"x":1.3,"t":1.115,"v":0.36},{"x":1.9,"t":1.115,"v":0.40},{"x":2.5,"t":1.115,"v":0.44},{"x":3.1,"t":1.115,"v":0.48},{"x":3.7,"t":1.115,"v":0.54},{"x":4.3,"t":1.115,"v":0.59},{"x":4.9,"t":1.115,"v":0.63},{"x":5.5,"t":1.115,"v":0.65},{"x":6.1,"t":1.115,"v":0.67},{"x":6.7,"t":1.115,"v":0.69},{"x":7.3,"t":1.115,"v":0.68},{"x":7.9,"t":1.115,"v":0.66},{"x":8.5,"t":1.115,"v":0.63},{"x":9.1,"t":1.115,"v":0.59},{"x":9.7,"t":1.115,"v":0.52}
],
"palette":[
{"lo":0.086,"hi":0.128,"v":0.107},{"lo":0.128,"hi":0.170,"v":0.149},{"lo":0.170,"hi":0.211,"v":0.190},{"lo":0.211,"hi":0.253,"v":0.232},{"lo":0.253,"hi":0.295,"v":0.274},{"lo":0.295,"hi":0.337,"v":0.316},{"lo":0.337,"hi":0.378,"v":0.357},{"lo":0.378,"hi":0.420,"v":0.399},{"lo":0.420,"hi":0.462,"v":0.441},{"lo":0.462,"hi":0.504,"v":0.483},{"lo":0.504,"hi":0.545,"v":0.524},{"lo":0.545,"hi":0.587,"v":0.566},{"lo":0.587,"hi":0.629,"v":0.608},{"lo":0.629,"hi":0.671,"v":0.650},{"lo":0.671,"hi":0.712,"v":0.691},{"lo":0.712,"hi":0.754,"v":0.733},{"lo":0.754,"hi":0.796,"v":0.775},{"lo":0.796,"hi":0.838,"v":0.817},{"lo":0.838,"hi":0.879,"v":0.858},{"lo":0.879,"hi":0.921,"v":0.900}
]},
"hconcat":[
{
"vconcat":[
{"width":59,"height":18,
 "layer":[
  {"data":{"values":[{"label":"t"}]},"mark":{"type":"text","angle":270,"font":"Liberation Sans","fontSize":46,"color":"black","align":"right","baseline":"alphabetic","dy":20,"dx":-8},"encoding":{"text":{"field":"label","type":"nominal"}}},
  {"data":{"values":[{"label":"min"}]},"mark":{"type":"text","angle":270,"font":"Liberation Sans","fontSize":26,"color":"black","align":"left","baseline":"alphabetic","dy":20,"dx":-2},"encoding":{"text":{"field":"label","type":"nominal"}}}
 ]},
{"width":59,"height":418,"view":{"fill":"#353e4f","stroke":null},"data":{"values":[]},"mark":"text","encoding":{}}
],
"spacing":43,
"bounds":"flush"
},
{
"width":535,"height":401,
"title":{"text":"Same Flavor Fit","font":"Liberation Sans","fontSize":42,"fontWeight":"normal","color":"black","anchor":"middle","baseline":"alphabetic","offset":-42},
"layer":[
{
"data":{"name":"cells"},
"transform":[
 {"bin":{"extent":[-8,10],"step":0.6,"nice":false},"field":"x","as":["x0","x1"]},
 {"bin":{"extent":[0.163,1.131],"step":0.03227,"nice":false},"field":"t","as":["t0","t1"]}
],
"mark":{"type":"rect","strokeWidth":0.6},
"encoding":{
 "x":{"field":"x0","type":"quantitative","scale":{"domain":[-8,10],"nice":false,"zero":false},
   "axis":{"orient":"bottom","values":[-6,-4,-2,0,2,4,6,8],"format":"~g","tickSize":-12,"tickColor":"black","tickWidth":1,"domain":true,"domainColor":"black","domainWidth":1,"grid":false,"labelFont":"Liberation Sans","labelFontSize":34,"labelColor":"black","labelPadding":17,"labelFlush":false,"labelOverlap":false,"title":"Δ t","titleFont":"Liberation Sans","titleFontSize":11,"titleFontWeight":"normal","titleColor":"black","titleX":525,"titleY":37,"titleAlign":"center","titleBaseline":"alphabetic"}},
 "x2":{"field":"x1"},
 "y":{"field":"t0","type":"quantitative","scale":{"domain":[0.163,1.131],"nice":false,"zero":false},
   "axis":{"orient":"left","values":[0.2,0.3,0.4,0.5,0.6,0.7,0.8,0.9,1,1.1],"format":"~g","tickSize":-17,"tickColor":"black","tickWidth":1,"domain":true,"domainColor":"black","domainWidth":1,"grid":false,"labelFont":"Liberation Sans","labelFontSize":34,"labelColor":"black","labelPadding":25,"labelFlush":false,"labelOverlap":false,"title":null}},
 "y2":{"field":"t1"},
 "color":{"field":"v","type":"quantitative",
   "scale":{"type":"quantize","domain":[0.086,0.921],"range":["#263eaa","#1752cc","#1063dc","#1272d9","#1481d6","#0e8fd1","#099dcc","#0ea8c2","#1eafb3","#2eb7a4","#52ba92","#75bd80","#96be71","#b3bd65","#d1bb59","#e3c04a","#f5c63a","#fdd32b","#fbe71c","#f9fb0e"]},
   "legend":null},
 "stroke":{"field":"v","type":"quantitative",
   "scale":{"type":"quantize","domain":[0.086,0.921],"range":["#263eaa","#1752cc","#1063dc","#1272d9","#1481d6","#0e8fd1","#099dcc","#0ea8c2","#1eafb3","#2eb7a4","#52ba92","#75bd80","#96be71","#b3bd65","#d1bb59","#e3c04a","#f5c63a","#fdd32b","#fbe71c","#f9fb0e"]},
   "legend":null}
}
},
{
"data":{"name":"cells"},
"mark":{"type":"point","opacity":0,"size":1},
"encoding":{
 "x":{"field":"x","type":"quantitative","scale":{"domain":[-8,10],"nice":false,"zero":false},
   "axis":{"orient":"bottom","values":[-7.5,-7,-6.5,-6,-5.5,-5,-4.5,-4,-3.5,-3,-2.5,-2,-1.5,-1,-0.5,0,0.5,1,1.5,2,2.5,3,3.5,4,4.5,5,5.5,6,6.5,7,7.5,8,8.5,9,9.5],"tickSize":-6.5,"tickColor":"black","tickWidth":1,"labels":false,"domain":false,"grid":false,"title":"Δt","titleFont":"DejaVu Serif","titleFontStyle":"italic","titleFontSize":44,"titleFontWeight":"normal","titleColor":"black","titleX":580,"titleY":68,"titleAlign":"center","titleBaseline":"alphabetic"}},
 "y":{"field":"t","type":"quantitative","scale":{"domain":[0.163,1.131],"nice":false,"zero":false},
   "axis":{"orient":"left","values":[0.18,0.2,0.22,0.24,0.26,0.28,0.3,0.32,0.34,0.36,0.38,0.4,0.42,0.44,0.46,0.48,0.5,0.52,0.54,0.56,0.58,0.6,0.62,0.64,0.66,0.68,0.7,0.72,0.74,0.76,0.78,0.8,0.82,0.84,0.86,0.88,0.9,0.92,0.94,0.96,0.98,1,1.02,1.04,1.06,1.08,1.1,1.12],"tickSize":-8.5,"tickColor":"black","tickWidth":1,"labels":false,"domain":false,"grid":false,"title":null}}
}
},
{
"data":{"values":[{"label":"Generator level","x":-2.52,"t":0.206}]},
"mark":{"type":"text","font":"Liberation Sans","fontSize":37,"color":"#222222","align":"center","baseline":"alphabetic"},
"encoding":{
 "x":{"field":"x","type":"quantitative","scale":{"domain":[-8,10],"nice":false,"zero":false},"axis":null},
 "y":{"field":"t","type":"quantitative","scale":{"domain":[0.163,1.131],"nice":false,"zero":false},"axis":{"orient":"right","ticks":false,"labels":false,"domain":true,"domainColor":"#333333","domainWidth":1.5,"grid":false,"title":null}},
 "text":{"field":"label","type":"nominal"}
}
},
{
"data":{"name":"palette"},
"mark":{"type":"rect","strokeWidth":0.6},
"encoding":{
 "x":{"datum":0,"type":"quantitative","scale":{"domain":[0,1],"range":[537,568]},"axis":null},
 "x2":{"datum":1},
 "y":{"field":"lo","type":"quantitative","scale":{"domain":[0.086,0.921],"nice":false,"zero":false},
   "axis":{"orient":"right","offset":33,"values":[0.1,0.2,0.3,0.4,0.5,0.6,0.7,0.8,0.9],"format":".1f","tickSize":-16,"tickColor":"#222222","tickWidth":1,"domain":true,"domainColor":"#333333","domainWidth":1.5,"grid":false,"labelFont":"Liberation Sans","labelFontSize":12,"labelColor":"black","labelPadding":19,"labelFlush":false,"labelOverlap":false,"title":null}},
 "y2":{"field":"hi"},
 "color":{"field":"v","type":"quantitative",
   "scale":{"type":"quantize","domain":[0.086,0.921],"range":["#263eaa","#1752cc","#1063dc","#1272d9","#1481d6","#0e8fd1","#099dcc","#0ea8c2","#1eafb3","#2eb7a4","#52ba92","#75bd80","#96be71","#b3bd65","#d1bb59","#e3c04a","#f5c63a","#fdd32b","#fbe71c","#f9fb0e"]},
   "legend":null},
 "stroke":{"field":"v","type":"quantitative",
   "scale":{"type":"quantize","domain":[0.086,0.921],"range":["#263eaa","#1752cc","#1063dc","#1272d9","#1481d6","#0e8fd1","#099dcc","#0ea8c2","#1eafb3","#2eb7a4","#52ba92","#75bd80","#96be71","#b3bd65","#d1bb59","#e3c04a","#f5c63a","#fdd32b","#fbe71c","#f9fb0e"]},
   "legend":null}
}
}
],
"resolve":{"scale":{"x":"independent","y":"independent"},"axis":{"x":"independent","y":"independent"}}
}
]
}
